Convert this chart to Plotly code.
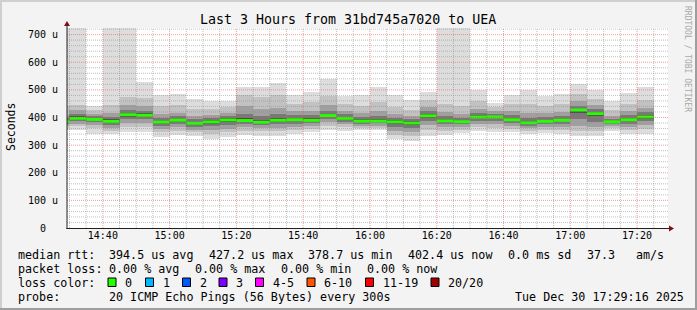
import plotly.graph_objects as go
import pandas as pd

# ---------------- data (values in microseconds) ----------------
bin_start = [
    "2025-12-30 14:25", "2025-12-30 14:30", "2025-12-30 14:35", "2025-12-30 14:40",
    "2025-12-30 14:45", "2025-12-30 14:50", "2025-12-30 14:55", "2025-12-30 15:00",
    "2025-12-30 15:05", "2025-12-30 15:10", "2025-12-30 15:15", "2025-12-30 15:20",
    "2025-12-30 15:25", "2025-12-30 15:30", "2025-12-30 15:35", "2025-12-30 15:40",
    "2025-12-30 15:45", "2025-12-30 15:50", "2025-12-30 15:55", "2025-12-30 16:00",
    "2025-12-30 16:05", "2025-12-30 16:10", "2025-12-30 16:15", "2025-12-30 16:20",
    "2025-12-30 16:25", "2025-12-30 16:30", "2025-12-30 16:35", "2025-12-30 16:40",
    "2025-12-30 16:45", "2025-12-30 16:50", "2025-12-30 16:55", "2025-12-30 17:00",
    "2025-12-30 17:05", "2025-12-30 17:10", "2025-12-30 17:15", "2025-12-30 17:20",
]
ping_p01 = [355, 355, 341, 341, 348, 348, 330, 337, 334, 323, 330, 337, 334, 334, 341, 348, 355, 352,
            355, 355, 323, 316, 334, 337, 344, 352, 348, 348, 341, 344, 341, 334, 334, 352, 341, 341]
ping_p03 = [365, 368, 362, 352, 365, 366, 348, 352, 346, 340, 346, 352, 350, 350, 355, 360, 370, 364,
            362, 363, 338, 332, 355, 352, 356, 365, 362, 360, 352, 356, 355, 352, 350, 362, 355, 358]
ping_p05 = [372, 378, 374, 362, 380, 381, 360, 364, 356, 354, 360, 365, 362, 363, 367, 370, 383, 375,
            370, 371, 352, 348, 372, 365, 366, 377, 375, 370, 362, 366, 367, 370, 366, 370, 367, 373]
ping_p07 = [378, 386, 383, 372, 393, 394, 370, 375, 366, 368, 373, 376, 372, 375, 378, 379, 395, 385,
            378, 379, 366, 362, 388, 376, 375, 388, 387, 380, 371, 375, 378, 395, 385, 377, 378, 386]
ping_p09 = [382, 392, 389, 380, 403, 403, 378, 385, 374, 378, 385, 384, 379, 385, 387, 386, 402, 392,
            384, 384, 378, 374, 400, 384, 381, 397, 397, 388, 377, 382, 386, 415, 405, 381, 387, 396]
median_rtt = [385, 397, 393, 386, 410, 408, 383, 390, 379, 384, 391, 389, 383, 390, 392, 390, 407, 397,
              387, 387, 384, 380, 406, 388, 385, 402, 402, 392, 381, 386, 390, 427, 414, 384, 392, 402]
ping_p12 = [390, 404, 398, 393, 417, 415, 389, 396, 385, 390, 397, 398, 392, 398, 398, 397, 414, 403,
            393, 394, 390, 386, 413, 395, 391, 408, 407, 398, 388, 392, 396, 432, 420, 389, 398, 409]
ping_p14 = [398, 414, 405, 402, 428, 425, 398, 405, 394, 398, 405, 412, 405, 412, 408, 408, 425, 412,
            402, 405, 398, 394, 422, 405, 400, 417, 414, 408, 398, 401, 405, 442, 430, 396, 408, 420]
ping_p16 = [410, 428, 414, 416, 445, 440, 412, 418, 405, 410, 417, 440, 430, 435, 422, 425, 445, 425,
            415, 422, 412, 406, 438, 420, 414, 430, 424, 422, 415, 415, 420, 458, 444, 407, 422, 436]
ping_p18 = [440, 446, 428, 445, 475, 470, 440, 445, 430, 432, 437, 480, 475, 480, 450, 455, 478, 448,
            440, 455, 438, 428, 462, 450, 442, 458, 438, 448, 450, 442, 448, 485, 468, 428, 450, 465]
ping_p20 = [760, 760, 442, 760, 760, 529, 482, 485, 467, 460, 460, 511, 511, 525, 482, 493, 540, 478,
            482, 511, 482, 464, 494, 760, 760, 500, 454, 482, 500, 478, 485, 522, 500, 460, 489, 511]

y_ticks = [0, 100, 200, 300, 400, 500, 600, 700]
loss_labels = ["0", "1", "2", "3", "4-5", "6-10", "11-19", "20/20"]
loss_colors = ["#26ff00", "#00b8ff", "#0059ff", "#7e00ff", "#ff00ff", "#ff5500", "#ff0000", "#a10000"]

title = "Last 3 Hours from 31bd745a7020 to UEA"
legend_rows = [
    [("median rtt:", 16), ("394.5 us avg", 107), ("427.2 us max", 206.5), ("378.7 us min", 306),
     ("402.4 us now", 406), ("0.0 ms sd", 506), ("37.3", 585), ("am/s", 634)],
    [("packet loss:", 16), ("0.00 % avg", 107), ("0.00 % max", 193), ("0.00 % min", 279), ("0.00 % now", 365)],
    [("loss color:", 16)],
    [("probe:", 16), ("20 ICMP Echo Pings (56 Bytes) every 300s", 107), ("Tue Dec 30 17:29:16 2025", 513)],
]
loss_box_x = [108, 145.5, 182.5, 219, 255.5, 307, 365.5, 431]

# ---------------- geometry helpers ----------------
W, H = 697, 310
PL, PR, PT, PB = 67, 668, 28, 228
def px(x):
    return (x - PL) / (PR - PL)
def py(y):
    return (PB - y) / (PB - PT)

MONO = "DejaVu Sans Mono"

starts = pd.to_datetime(bin_start)
centers = starts + pd.Timedelta(seconds=150)
ends = starts + pd.Timedelta(minutes=5)

fig = go.Figure()
bands = [
    (ping_p01, ping_p20, "#dddddd"),
    (ping_p03, ping_p18, "#c2c2c2"),
    (ping_p05, ping_p16, "#a0a0a0"),
    (ping_p07, ping_p14, "#787878"),
    (ping_p09, ping_p12, "#4a4a4a"),
]
for lo, hi, col in bands:
    fig.add_trace(go.Bar(
        x=centers, y=[h - l for l, h in zip(lo, hi)], base=lo, width=300000,
        marker=dict(color=col, line=dict(width=0)), hoverinfo="skip", showlegend=False))

# median: one horizontal segment per 5-minute step
mx, my = [], []
for s, e, m in zip(starts, ends, median_rtt):
    mx += [s, e, None]
    my += [m, m, None]
fig.add_trace(go.Scatter(
    x=mx, y=my, mode="lines", connectgaps=False,
    line=dict(color="#26ff00", width=3),
    hoverinfo="skip", showlegend=False))

shapes = []
# grid (drawn above the smoke like rrdtool)
t = pd.Timestamp("2025-12-30 14:30")
while t <= pd.Timestamp("2025-12-30 17:25"):
    major = t.minute % 20 == 0
    shapes.append(dict(type="line", xref="x", yref="paper", x0=t.strftime("%Y-%m-%d %H:%M:%S"),
                       x1=t.strftime("%Y-%m-%d %H:%M:%S"), y0=0, y1=1, layer="above",
                       line=dict(color="rgba(224,80,80,0.55)" if major else "rgba(140,140,140,0.55)",
                                 width=1, dash="1px,1px")))
    t += pd.Timedelta(minutes=5)
for v in range(20, 724, 20):
    major = v % 100 == 0
    shapes.append(dict(type="line", xref="paper", yref="y", x0=0, x1=1, y0=v, y1=v, layer="above",
                       line=dict(color="rgba(224,80,80,0.55)" if major else "rgba(140,140,140,0.55)",
                                 width=1, dash="1px,1px")))

# axes + arrows
AX = "#202020"
AR = "#801010"
shapes.append(dict(type="line", xref="paper", yref="paper", x0=px(66.5), x1=px(670), y0=py(228.5), y1=py(228.5),
                   line=dict(color=AX, width=1), layer="above"))
shapes.append(dict(type="line", xref="paper", yref="paper", x0=px(67), x1=px(67), y0=py(229), y1=py(25),
                   line=dict(color=AX, width=1), layer="above"))
shapes.append(dict(type="path", xref="paper", yref="paper", layer="above",
                   path=f"M {px(669)} {py(225.5)} L {px(674)} {py(228.5)} L {px(669)} {py(231.5)} Z",
                   fillcolor=AR, line=dict(color=AR, width=0)))
shapes.append(dict(type="path", xref="paper", yref="paper", layer="above",
                   path=f"M {px(64)} {py(26)} L {px(67)} {py(21)} L {px(70)} {py(26)} Z",
                   fillcolor=AR, line=dict(color=AR, width=0)))

# outer 3d frame
shapes += [
    dict(type="rect", xref="paper", yref="paper", x0=px(0), x1=px(W), y0=py(0), y1=py(2),
         fillcolor="#cfcfcf", line=dict(width=0), layer="above"),
    dict(type="rect", xref="paper", yref="paper", x0=px(0), x1=px(2), y0=py(0), y1=py(H),
         fillcolor="#cfcfcf", line=dict(width=0), layer="above"),
    dict(type="rect", xref="paper", yref="paper", x0=px(0), x1=px(W), y0=py(H - 2), y1=py(H),
         fillcolor="#9e9e9e", line=dict(width=0), layer="above"),
    dict(type="rect", xref="paper", yref="paper", x0=px(W - 2), x1=px(W), y0=py(0), y1=py(H),
         fillcolor="#9e9e9e", line=dict(width=0), layer="above"),
]

# loss color boxes
for xb, col in zip(loss_box_x, loss_colors):
    shapes.append(dict(type="rect", xref="paper", yref="paper", x0=px(xb), x1=px(xb + 8),
                       y0=py(278), y1=py(286.5), fillcolor=col, line=dict(color="black", width=1),
                       layer="above"))

annotations = []
def ann(text, x, y, size, xanchor="left", color="black", angle=0):
    annotations.append(dict(text=text, x=px(x), y=py(y), xref="paper", yref="paper",
                            xanchor=xanchor, yanchor="middle", showarrow=False, textangle=angle,
                            font=dict(family=MONO, size=size, color=color)))

ann(title, 348, 19, 13.3, xanchor="center")
ann("Seconds", 11, 127, 11.5, xanchor="center", angle=-90)
ann("RRDTOOL / TOBI OETIKER", 688, 59, 8, xanchor="center", color="#a8a8a8", angle=90)

for v in y_ticks:
    annotations.append(dict(text=("0\u00a0\u00a0" if v == 0 else f"{v} u"), x=px(60), y=v,
                            xref="paper", yref="y", xanchor="right", yanchor="middle", showarrow=False,
                            font=dict(family=MONO, size=10, color="black")))

row_y = [254.5, 268.5, 282.5, 296.5]
for row, yy in zip(legend_rows, row_y):
    for text, xx in row:
        ann(text, xx, yy, 11.7)
for xb, lab in zip(loss_box_x, loss_labels):
    ann(lab, xb + 15, row_y[2], 11.7)

fig.update_layout(
    width=W, height=H, autosize=False,
    margin=dict(l=PL, r=W - PR, t=PT, b=H - PB, pad=0),
    paper_bgcolor="#f3f3f3", plot_bgcolor="#ffffff",
    barmode="overlay", bargap=0, showlegend=False,
    shapes=shapes, annotations=annotations,
    xaxis=dict(type="date", range=["2025-12-30 14:29:16", "2025-12-30 17:29:16"],
               tick0="2025-12-30 14:40", dtick=20 * 60 * 1000, tickformat="%H:%M",
               showgrid=False, zeroline=False, showline=False, ticks="",
               tickfont=dict(family=MONO, size=10, color="black"), fixedrange=True),
    yaxis=dict(range=[0, 724], showgrid=False, zeroline=False, showline=False,
               showticklabels=False, ticks="", fixedrange=True),
)

fig.write_html("out.html")
